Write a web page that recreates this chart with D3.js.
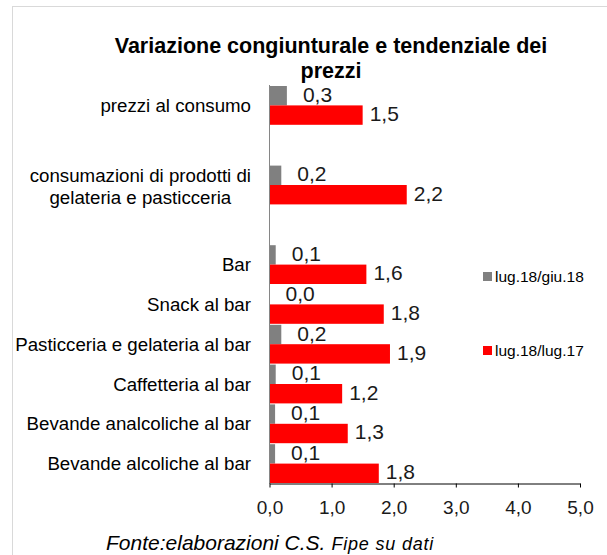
<!DOCTYPE html>
<html>
  <head>
    <meta charset="utf-8">
    <title>Variazione congiunturale e tendenziale dei prezzi</title>
    <script src="https://d3js.org/d3.v7.min.js"></script>
    <style>
body { margin: 0; background: #fff; }
svg { display: block; font-family: "Liberation Sans", Arial, sans-serif; }
    </style>
  </head>
  <body>
<script>
// categories top to bottom; the empty rows are spacer rows of the original sheet
var categories = [
  ["prezzi al consumo"],
  [],
  ["consumazioni di prodotti di", "gelateria e pasticceria"],
  [],
  ["Bar"],
  ["Snack al bar"],
  ["Pasticceria e gelateria al bar"],
  ["Caffetteria al bar"],
  ["Bevande analcoliche al bar"],
  ["Bevande alcoliche al bar"]
];
var seriesNames = ["lug.18/giu.18", "lug.18/lug.17"];
var congiunturale = [0.28, null, 0.19, null, 0.10, 0.00, 0.19, 0.10, 0.09, 0.09];
var tendenziale   = [1.50, null, 2.21, null, 1.56, 1.84, 1.94, 1.17, 1.26, 1.76];
var xTicks = [0, 1, 2, 3, 4, 5];
var titleLines = ["Variazione congiunturale e tendenziale dei", "prezzi"];

var width = 607,
    height = 555,
    colors = ["#808080", "#ff0000"];

var it = d3.formatLocale({decimal: ",", thousands: ".", grouping: [3], currency: ["", "€"]});
var fmt = it.format(".1f");

var svg = d3.select("body").append("svg")
  .attr("width", width)
  .attr("height", height);

// chart area border (runs off the picture on the right and bottom)
svg.append("rect")
  .attr("x", 12.5).attr("y", 6.5)
  .attr("width", 700).attr("height", 700)
  .attr("fill", "#fff")
  .attr("stroke", "#d9d9d9");

svg.append("text")
  .attr("text-anchor", "middle")
  .attr("font-weight", "bold")
  .attr("font-size", 21.5)
  .attr("fill", "#000")
  .selectAll("tspan").data(titleLines).enter().append("tspan")
    .attr("x", 331)
    .attr("y", function(d, i) { return 53 + i * 25; })
    .text(function(d) { return d; });

var x = d3.scaleLinear().domain([0, 5]).range([269.5, 580]);
var y = d3.scaleBand()
  .domain(d3.range(categories.length))
  .range([85, 484])
  .padding(0.025);
var sub = d3.scaleBand().domain([0, 1]).range([0, y.bandwidth()]);

var rows = categories.map(function(c, i) {
  return {i: i, label: c, values: [congiunturale[i], tendenziale[i]]};
});

function bars(d) {
  return d.values.map(function(v, s) { return {v: v, s: s}; })
    .filter(function(e) { return e.v != null; });
}

// bars
var row = svg.append("g").selectAll("g").data(rows).enter().append("g")
  .attr("transform", function(d) { return "translate(0," + y(d.i) + ")"; });

row.selectAll("rect").data(bars).enter().append("rect")
  .attr("x", x(0))
  .attr("y", function(d) { return sub(d.s); })
  .attr("width", function(d) { return x(d.v) - x(0); })
  .attr("height", sub.bandwidth())
  .attr("fill", function(d) { return colors[d.s]; });

row.selectAll("text.val").data(bars).enter().append("text")
  .attr("class", "val")
  .attr("x", function(d) { return x(d.v) + (d.s == 0 ? 16 : 7); })
  .attr("y", function(d) { return sub(d.s) + sub.bandwidth() / 2 + 6; })
  .attr("font-size", 21)
  .attr("fill", "#1a1a1a")
  .text(function(d) { return fmt(d.v); });

// category labels, lines centred on each other, right edge at 251
var labelRight = 251;
var lab = svg.append("g").attr("font-size", 18.7).attr("fill", "#000")
  .selectAll("text").data(rows.filter(function(d) { return d.label.length; }))
  .enter().append("text")
    .attr("text-anchor", "middle");

lab.each(function(d) {
  var t = d3.select(this),
      n = d.label.length,
      cy = y(d.i) + y.bandwidth() / 2;
  var spans = t.selectAll("tspan").data(d.label).enter().append("tspan")
    .attr("y", function(l, j) { return cy + 6.5 + (j - (n - 1) / 2) * 22 + (n > 1 ? 2 : 0); })
    .text(function(l) { return l; });
  var w = 0;
  spans.each(function() { w = Math.max(w, this.getComputedTextLength()); });
  spans.attr("x", labelRight - w / 2);
});

// y axis line
svg.append("line")
  .attr("x1", x(0)).attr("x2", x(0))
  .attr("y1", 85).attr("y2", 484)
  .attr("stroke", "#868686");

// x axis
var xAxis = svg.append("g")
  .attr("transform", "translate(0,483.5)")
  .call(d3.axisBottom(x).tickValues(xTicks).tickFormat(fmt).tickSize(4).tickSizeOuter(0).tickPadding(13));
xAxis.select(".domain").attr("stroke", "#000");
xAxis.selectAll(".tick line").attr("stroke", "#000");
xAxis.selectAll(".tick text")
  .attr("font-size", 19)
  .attr("font-family", "Liberation Sans, Arial, sans-serif")
  .attr("fill", "#1a1a1a");

// legend
var legend = svg.append("g").attr("font-size", 15.5).attr("fill", "#000")
  .selectAll("g").data(seriesNames).enter().append("g")
    .attr("transform", function(d, i) { return "translate(483," + (272 + i * 74) + ")"; });
legend.append("rect")
  .attr("width", 9).attr("height", 9)
  .attr("fill", function(d, i) { return colors[i]; });
legend.append("text")
  .attr("x", 12).attr("y", 9.5)
  .text(function(d) { return d; });

// source note at the bottom edge
var note = svg.append("text")
  .attr("x", 106).attr("y", 550)
  .attr("font-style", "italic")
  .attr("fill", "#000");
note.append("tspan").attr("font-size", 21).text("Fonte:elaborazioni C.S.");
note.append("tspan").attr("font-size", 18).attr("dx", 6).attr("letter-spacing", 0.8).text("Fipe su dati");
</script>
  </body>
</html>
